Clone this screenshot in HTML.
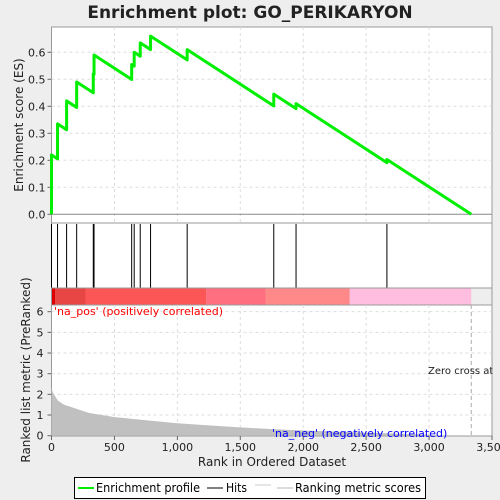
<!DOCTYPE html>
<html><head><meta charset="utf-8"><style>
body{margin:0;background:#eeeeee;}
svg{display:block;font-family:"DejaVu Sans","Liberation Sans",sans-serif;}
</style></head><body>
<svg id="chart" width="500" height="500">
<rect x="0" y="0" width="500" height="500" fill="#eeeeee"/>
<text x="250" y="18" font-size="17" font-weight="bold" text-anchor="middle" fill="#222">Enrichment plot: GO_PERIKARYON</text>
<g id="gtop"></g><g id="ghits"></g><g id="gbar"></g><g id="gbot"></g>
<text transform="translate(23,125) rotate(-90)" font-size="12" text-anchor="middle" fill="#222">Enrichment score (ES)</text>
<text transform="translate(30,370) rotate(-90)" font-size="12" text-anchor="middle" fill="#222">Ranked list metric (PreRanked)</text>
<text x="272" y="466" font-size="12" text-anchor="middle" fill="#222">Rank in Ordered Dataset</text>
<g>
<rect x="74.5" y="477.5" width="351" height="21" fill="#fff" stroke="#000"/>
<line x1="78" y1="488" x2="94" y2="488" stroke="#00ee00" stroke-width="2"/>
<text x="96" y="492" font-size="12" fill="#000" textLength="104" lengthAdjust="spacingAndGlyphs">Enrichment profile</text>
<line x1="207" y1="488" x2="223" y2="488" stroke="#000" stroke-width="1"/>
<text x="226" y="492" font-size="12" fill="#000" textLength="21" lengthAdjust="spacingAndGlyphs">Hits</text>
<line x1="255" y1="485" x2="271" y2="485" stroke="#ccc" stroke-width="1"/>
<line x1="277" y1="488" x2="293" y2="488" stroke="#bbb" stroke-width="1"/>
<text x="295" y="492" font-size="12" fill="#000" textLength="126" lengthAdjust="spacingAndGlyphs">Ranking metric scores</text>
</g>
</svg>
<script>
const hitRanks=[0,48,120,200,332,338,637,657,705,787,1078,1766,1943,2665];
const esAfter=[0.22,0.335,0.42,0.49,0.52,0.59,0.555,0.60,0.635,0.66,0.61,0.445,0.41,0.203];
const esFinalRank=3335;
const metricRanks=[0,10,20,50,100,150,200,300,400,500,750,1000,1250,1500,1750,2000,2500,3000,3050,3335];
const metricValues=[2.35,2.1,2.0,1.7,1.5,1.4,1.3,1.1,1.0,0.9,0.75,0.6,0.5,0.4,0.32,0.25,0.15,0.05,0,0];
const esTicks=[0,0.1,0.2,0.3,0.4,0.5,0.6];
const metricTicks=[0,1,2,3,4,5,6];
const xTicks=[0,500,1000,1500,2000,2500,3000,3500];
const xTickLabels=["0","500","1,000","1,500","2,000","2,500","3,000","3,500"];
const barStops=[0,28,270,1230,1700,2370,3335];
const barColors=["#dd0000","#e84545","#fc5656","#ff6f7f","#ff8888","#ffbde0"];

const NS="http://www.w3.org/2000/svg";
const L=51.5,R=492;
const X=r=>L+r*(R-L)/3500;
const Yes=v=>214.3-v*270;
const Ym=v=>435.7-v*20.67;
function mk(p,tag,at){const e=document.createElementNS(NS,tag);for(const k in at)e.setAttribute(k,at[k]);p.appendChild(e);return e;}
const gTop=document.getElementById('gtop'),gHits=document.getElementById('ghits'),gBar=document.getElementById('gbar'),gBot=document.getElementById('gbot');

let p1=mk(gTop,'rect',{x:L,y:27,width:R-L,height:196,fill:'#fff',stroke:'#999'});


let p2=mk(gHits,'rect',{x:L,y:223,width:R-L,height:65,fill:'#fff',stroke:'#999'});


let p3=mk(gBot,'rect',{x:L,y:305,width:R-L,height:131,fill:'#fff',stroke:'#999'});



xTicks.forEach((t,i)=>{
 if(t>0&&t<3500){
  mk(gTop,'line',{x1:X(t),y1:27,x2:X(t),y2:223,stroke:'#ddd','stroke-dasharray':'3,3'});
  mk(gBot,'line',{x1:X(t),y1:305,x2:X(t),y2:436,stroke:'#ddd','stroke-dasharray':'3,3'});
 }
 mk(gBot,'line',{x1:X(t),y1:436,x2:X(t),y2:440,stroke:'#666'});
 const tx=mk(gBot,'text',{x:X(t),y:451,'font-size':11,'text-anchor':'middle',fill:'#222'});
 tx.textContent=xTickLabels[i];
 
 
});
esTicks.forEach(t=>{
 mk(gTop,'line',{x1:L,y1:Yes(t),x2:R,y2:Yes(t),stroke:t===0?'#888':'#ddd','stroke-dasharray':t===0?'none':'3,3'});
 mk(gTop,'line',{x1:L-4,y1:Yes(t),x2:L,y2:Yes(t),stroke:'#666'});
 const tx=mk(gTop,'text',{x:L-6,y:Yes(t)+4,'font-size':11,'text-anchor':'end',fill:'#222'});
 tx.textContent=t.toFixed(1);
 
 
});
metricTicks.forEach(t=>{
 if(t>0)mk(gBot,'line',{x1:L,y1:Ym(t),x2:R,y2:Ym(t),stroke:'#ddd','stroke-dasharray':'3,3'});
 mk(gBot,'line',{x1:L-4,y1:Ym(t),x2:L,y2:Ym(t),stroke:'#666'});
 const tx=mk(gBot,'text',{x:L-8,y:Ym(t)+4,'font-size':11,'text-anchor':'end',fill:'#222'});
 tx.textContent=String(t);
 
 
});

const slope=esAfter[esAfter.length-1]/(esFinalRank-hitRanks[hitRanks.length-1]);
let pts=[[X(0),Yes(0)]];let prevR=0,prevV=0;
hitRanks.forEach((r,i)=>{
 const before=i===0?0:prevV-slope*(r-prevR);
 pts.push([X(r),Yes(before)]);pts.push([X(r),Yes(esAfter[i])]);
 prevR=r;prevV=esAfter[i];
});
pts.push([X(esFinalRank),Yes(prevV-slope*(esFinalRank-prevR))]);
const es=mk(gTop,'polyline',{points:pts.map(p=>p.join(',')).join(' '),fill:'none',stroke:'#00ee00','stroke-width':3,'stroke-linejoin':'round'});



hitRanks.forEach(r=>{
 const h=mk(gHits,'line',{x1:X(r),y1:224,x2:X(r),y2:288,stroke:'#000','stroke-width':1});
 
 
});

barColors.forEach((c,i)=>{
 const b=mk(gBar,'rect',{x:X(barStops[i]),y:288,width:X(barStops[i+1])-X(barStops[i]),height:17,fill:c});
 
 
});
mk(gBar,'rect',{x:L,y:288,width:R-L,height:17,fill:'none',stroke:'#999'});

let ap=[[X(metricRanks[0]),Ym(0)]];
metricRanks.forEach((r,i)=>ap.push([X(r),Ym(metricValues[i])]));
ap.push([X(metricRanks[metricRanks.length-1]),Ym(0)]);
const area=mk(gBot,'polygon',{points:ap.map(p=>p.join(',')).join(' '),fill:'#c0c0c0'});


mk(gBot,'line',{x1:X(esFinalRank),y1:305,x2:X(esFinalRank),y2:436,stroke:'#aaa','stroke-dasharray':'4,3'});
let t1=mk(gBot,'text',{x:54,y:315,'font-size':11,fill:'#ff0000'});t1.textContent="'na_pos' (positively correlated)";


let t2=mk(gBot,'text',{x:272,y:437,'font-size':11,fill:'#0000ff'});t2.textContent="'na_neg' (negatively correlated)";


let t3=mk(gBot,'text',{x:428,y:374,'font-size':10,fill:'#222'});t3.textContent="Zero cross at 3335";


mk(gBot,'rect',{x:R+0.5,y:360,width:8,height:20,fill:'#eeeeee'});
</script>
</body></html>
